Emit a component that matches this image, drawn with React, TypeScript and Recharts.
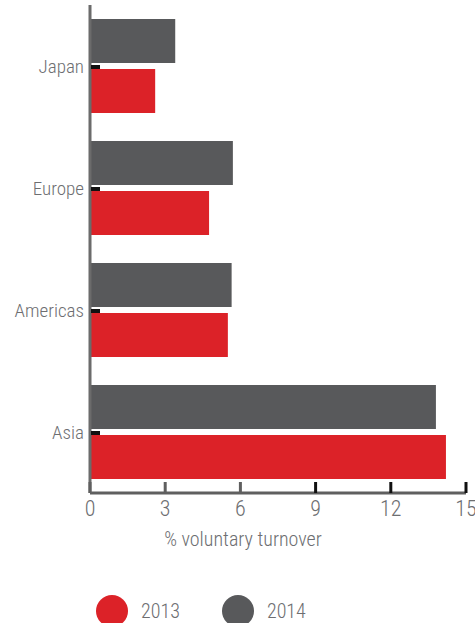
import React from 'react';
import { BarChart, Bar, XAxis, YAxis, Legend } from 'recharts';

const regions = ['Japan', 'Europe', 'Americas', 'Asia'];
const values2013 = [2.6, 4.75, 5.5, 14.2];
const values2014 = [3.4, 5.7, 5.65, 13.8];
const xTicks = [0, 3, 6, 9, 12, 15];
const seriesNames = ['2013', '2014'];

const RED = '#dc2228';
const GRAY = '#58595b';
const TEXT = '#6d6e71';
const AXIS = '#5f5f5f';
const FONT = '"Liberation Sans Narrow", "Roboto Condensed", "Arial Narrow", sans-serif';
const seriesColors = [RED, GRAY];

const data = regions.map((r, i) => ({ region: r, y2013: values2013[i], y2014: values2014[i] }));

const Y_MARGIN = 6;
const X_MARGIN = 6;

const YTick = (props: any) => {
  const { x, y, payload } = props;
  return (
    <g>
      <text x={x} y={y} dy="0.355em" textAnchor="end" fill={TEXT} fontSize={19} fontWeight={300} fontFamily={FONT}>
        {payload.value}
      </text>
      <rect x={x + Y_MARGIN + 1} y={y - 1} width={9} height={4} fill="#111" />
    </g>
  );
};

const XTick = (props: any) => {
  const { x, y, payload } = props;
  const axisY = y - X_MARGIN;
  return (
    <g>
      <line x1={x} x2={x} y1={axisY} y2={axisY - 11} stroke={payload.value >= 9 ? '#111' : AXIS} strokeWidth={3} />
      <text x={x} y={y} dy="0.75em" textAnchor="middle" fill={TEXT} fontSize={22} fontWeight={300} fontFamily={FONT}>
        {payload.value}
      </text>
    </g>
  );
};

const renderLegend = () => (
  <div style={{ display: 'flex', alignItems: 'center', fontFamily: FONT, fontSize: 20, fontWeight: 300, color: TEXT }}>
    {seriesNames.map((n, i) => (
      <div key={n} style={{ display: 'flex', alignItems: 'center', marginRight: 42 }}>
        <span
          style={{
            width: 32,
            height: 32,
            borderRadius: '50%',
            background: seriesColors[i],
            display: 'inline-block',
            marginRight: 13,
          }}
        />
        <span>{n}</span>
      </div>
    ))}
  </div>
);

export default function App() {
  return (
    <div style={{ position: 'absolute', left: 0, top: 0, width: 475, height: 623, overflow: 'hidden', background: '#fff' }}>
      <BarChart
        layout="vertical"
        width={475}
        height={623}
        data={data}
        margin={{ top: 5, right: 9, bottom: 0, left: 0 }}
        barSize={44}
        barGap={6}
      >
        <XAxis
          type="number"
          domain={[0, 15]}
          ticks={xTicks}
          height={130}
          axisLine={{ stroke: AXIS, strokeWidth: 3 }}
          tickLine={false}
          tickSize={0}
          tickMargin={X_MARGIN}
          tick={<XTick />}
          interval={0}
          label={{
            value: '% voluntary turnover',
            position: 'insideTop',
            offset: 39,
            dx: -35,
            fill: TEXT,
            fontSize: 20,
            fontWeight: 300,
            fontFamily: FONT,
          }}
        />
        <YAxis
          type="category"
          dataKey="region"
          width={90}
          axisLine={{ stroke: '#6b6b6b', strokeWidth: 3 }}
          tickLine={false}
          tickSize={0}
          tickMargin={Y_MARGIN}
          tick={<YTick />}
          interval={0}
        />
        <Legend
          layout="horizontal"
          verticalAlign="middle"
          align="center"
          content={renderLegend}
          wrapperStyle={{ left: 96, top: 595, width: 'auto' }}
        />
        <Bar dataKey="y2014" name="2014" fill={GRAY} isAnimationActive={false} />
        <Bar dataKey="y2013" name="2013" fill={RED} isAnimationActive={false} />
      </BarChart>
    </div>
  );
}
